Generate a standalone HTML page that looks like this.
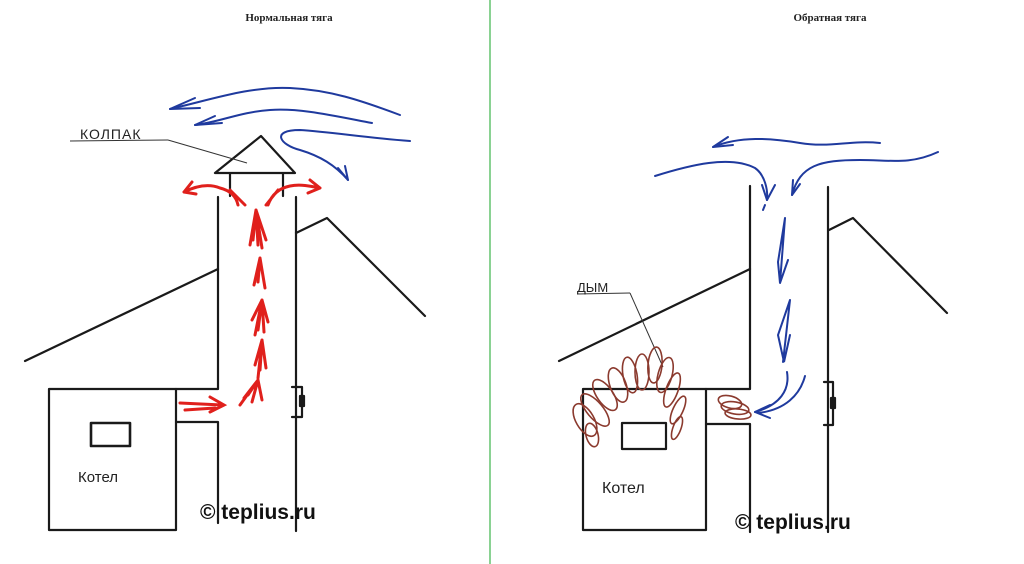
<!DOCTYPE html>
<html><head><meta charset="utf-8"><style>
html,body{margin:0;padding:0;background:#fff}
svg{display:block}
</style></head><body>
<svg width="1024" height="564" viewBox="0 0 1024 564" xmlns="http://www.w3.org/2000/svg">
<rect width="1024" height="564" fill="#fff"/>
<line x1="490" y1="0" x2="490" y2="564" stroke="#3cb44b" stroke-width="1.2"/>
<g font-family="'Liberation Serif','Noto Serif CJK SC',serif" font-weight="bold" font-size="11" fill="#222" text-anchor="middle">
<text x="289" y="21">Нормальная тяга</text>
<text x="830" y="21">Обратная тяга</text>
</g>

<!-- LEFT -->
<g stroke="#1a1a1a" stroke-width="2.2" fill="none" stroke-linecap="round" stroke-linejoin="round">
<rect x="49" y="389" width="127" height="141"/>
<rect x="91" y="423" width="39" height="23" stroke-width="2.6"/>
<polyline points="176,389 218,389 218,197"/>
<polyline points="176,422 218,422 218,523"/>
<line x1="296" y1="197" x2="296" y2="531"/>
<polygon points="261,136 215,173 295,173"/>
<line x1="230" y1="174" x2="230" y2="196"/>
<line x1="283" y1="174" x2="283" y2="196"/>
<line x1="25" y1="361" x2="218" y2="269"/>
<polyline points="296,233 327,218 425,316"/>
<polyline points="292,387 302,387 302,417 292,417"/>
<rect x="300" y="396" width="4" height="10" fill="#1a1a1a"/>
</g>
<g stroke="#333" stroke-width="1" fill="none">
<line x1="70" y1="141" x2="168" y2="140"/>
<line x1="168" y1="140" x2="247" y2="163"/>
</g>
<g font-family="'Liberation Sans','DejaVu Sans',sans-serif" fill="#222">
<text x="80" y="139" font-size="14" letter-spacing="1">КОЛПАК</text>
<text x="78" y="482" font-size="15">Котел</text>
<text x="200" y="519" font-size="21" font-weight="bold" fill="#111">© teplius.ru</text>
</g>
<!-- blue wind left -->
<g stroke="#1f3a9e" stroke-width="2" fill="none" stroke-linecap="round">
<path d="M400,115 C360,100 330,90 290,88 C250,86 210,100 170,109"/>
<path d="M170,109 L195,98 M170,109 L200,108"/>
<path d="M372,123 C330,115 300,108 270,110 C240,112 220,122 195,125"/>
<path d="M195,125 L215,116 M195,125 L222,123"/>
<path d="M410,141 C370,138 330,132 300,130 C270,130 280,145 300,150 C320,156 335,165 348,180"/>
<path d="M348,180 L338,168 M348,180 L345,166"/>
</g>
<!-- red arrows left -->
<g stroke="#e0201c" stroke-width="3" fill="none" stroke-linecap="round">
<path d="M180,403 L222,405 M210,397 L224,405 L210,412 M185,410 L215,408"/>
<path d="M240,405 L258,380 L248,395 M258,380 L262,400 M258,380 L252,402 M258,380 L244,398"/>
<path d="M258,378 L262,340 L255,365 M262,340 L266,368 M262,340 L260,370"/>
<path d="M255,335 L262,300 L252,320 M262,300 L268,322 M262,300 L258,330 M262,300 L264,332"/>
<path d="M260,258 L254,285 M260,258 L265,288 M260,258 L258,282"/>
<path d="M256,210 L250,245 M256,210 L262,248 M256,210 L258,245 M256,210 L266,240 M256,210 L253,240"/>
<path d="M238,205 C236,195 228,190 220,188 M220,188 C210,184 198,185 184,192 M184,192 L192,182 M184,192 L196,194 M230,190 L245,205"/>
<path d="M268,205 C272,194 280,188 290,186 C300,184 310,186 320,188 M320,188 L310,180 M320,188 L308,193 M278,190 L266,205"/>
</g>

<!-- RIGHT -->
<g stroke="#1a1a1a" stroke-width="2.2" fill="none" stroke-linecap="round" stroke-linejoin="round">
<rect x="583" y="389" width="123" height="141"/>
<rect x="622" y="423" width="44" height="26"/>
<polyline points="706,389 750,389 750,186"/>
<polyline points="706,424 750,424 750,532"/>
<line x1="828" y1="187" x2="828" y2="532"/>
<line x1="559" y1="361" x2="750" y2="269"/>
<polyline points="829,230 853,218 947,313"/>
<polyline points="824,382 833,382 833,425 824,425"/>
<rect x="831" y="398" width="4" height="10" fill="#1a1a1a"/>
</g>
<g stroke="#333" stroke-width="1" fill="none">
<line x1="577" y1="294" x2="630" y2="293"/>
<line x1="630" y1="293" x2="663" y2="367"/>
</g>
<g font-family="'Liberation Sans','DejaVu Sans',sans-serif" fill="#222">
<text x="577" y="292" font-size="13">ДЫМ</text>
<text x="602" y="493" font-size="16">Котел</text>
<text x="735" y="529" font-size="21" font-weight="bold" fill="#111">© teplius.ru</text>
</g>
<!-- smoke -->
<g stroke="#8b3a2e" stroke-width="1.6" fill="none">
<ellipse cx="585" cy="420" rx="9" ry="18" transform="rotate(-30 585 420)"/>
<ellipse cx="595" cy="410" rx="8" ry="20" transform="rotate(-40 595 410)"/>
<ellipse cx="605" cy="395" rx="8" ry="18" transform="rotate(-35 605 395)"/>
<ellipse cx="618" cy="385" rx="8" ry="18" transform="rotate(-20 618 385)"/>
<ellipse cx="630" cy="375" rx="7" ry="18" transform="rotate(-10 630 375)"/>
<ellipse cx="642" cy="372" rx="7" ry="18" transform="rotate(0 642 372)"/>
<ellipse cx="655" cy="365" rx="7" ry="18" transform="rotate(5 655 365)"/>
<ellipse cx="665" cy="375" rx="7" ry="18" transform="rotate(15 665 375)"/>
<ellipse cx="672" cy="390" rx="6" ry="18" transform="rotate(20 672 390)"/>
<ellipse cx="678" cy="410" rx="5" ry="15" transform="rotate(25 678 410)"/>
<ellipse cx="677" cy="428" rx="4" ry="12" transform="rotate(20 677 428)"/>
<ellipse cx="592" cy="435" rx="6" ry="12" transform="rotate(-15 592 435)"/>
<ellipse cx="730" cy="402" rx="12" ry="6" transform="rotate(15 730 402)"/>
<ellipse cx="735" cy="408" rx="14" ry="6" transform="rotate(10 735 408)"/>
<ellipse cx="738" cy="414" rx="13" ry="5" transform="rotate(5 738 414)"/>
</g>
<!-- blue right -->
<g stroke="#1f3a9e" stroke-width="2" fill="none" stroke-linecap="round">
<path d="M880,143 C850,140 830,148 800,143 C770,138 740,136 713,147"/>
<path d="M713,147 L728,137 M713,147 L733,145"/>
<path d="M655,176 C690,165 730,155 755,168 C765,175 768,190 767,200"/>
<path d="M767,200 L762,185 M767,200 L775,185 M765,205 L763,210"/>
<path d="M938,152 C910,165 890,160 860,160 C820,160 800,165 792,195"/>
<path d="M792,195 L793,180 M792,195 L800,184"/>
<path d="M785,218 L780,283 M785,218 L778,262 L780,283 L788,260"/>
<path d="M790,300 L783,362 M790,300 L778,335 L784,362 L790,335"/>
<path d="M787,372 C790,390 780,405 755,412 M805,376 C800,395 785,410 758,413"/>
<path d="M755,412 L770,405 M755,412 L770,418"/>
</g>
</svg>
</body></html>
